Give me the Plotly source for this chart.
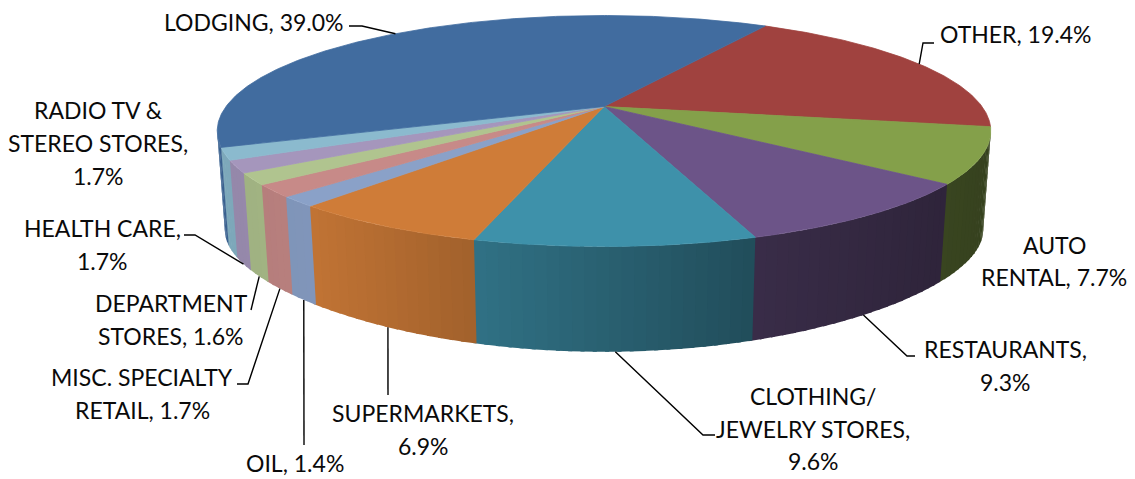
import numpy as np
import plotly.graph_objects as go

# Merchant category shares, clockwise from the LODGING / OTHER boundary.
categories = ["OTHER", "AUTO RENTAL", "RESTAURANTS", "CLOTHING/JEWELRY STORES", "SUPERMARKETS",
              "OIL", "MISC. SPECIALTY RETAIL", "DEPARTMENT STORES", "HEALTH CARE",
              "RADIO TV & STEREO STORES", "LODGING"]
shares = [19.4, 7.7, 9.3, 9.6, 6.9, 1.4, 1.7, 1.6, 1.7, 1.7, 39.0]
face_colors = ["#A0423F", "#84A04A", "#6C5488", "#3E91AA", "#CF7C38", "#8AA1C8",
               "#C78A88", "#B0C48F", "#A596BC", "#8BBACE", "#416C9F"]

# Projection of the tilted disc onto the page, in pixels.
CX, CY = 604.0, 106.5
RADIUS_X, RADIUS_Y = 378.0, 110.3
PERSPECTIVE_TOP, PERSPECTIVE_BOTTOM = 0.212, 0.35
BOTTOM_SHRINK, BOTTOM_DROP, BOTTOM_RADIUS_Y = 0.98, 103.0, 92.5
START_DEG = 30.3


def top_rim(theta, r=1.0):
    u, v = r * np.sin(theta), -r * np.cos(theta)
    s = 1.0 / (1.0 - PERSPECTIVE_TOP * v)
    return CX + RADIUS_X * u * s, CY + RADIUS_Y * v * s


def bottom_rim(theta):
    u, v = np.sin(theta), -np.cos(theta)
    s = 1.0 / (1.0 - PERSPECTIVE_TOP * v)
    x = CX + BOTTOM_SHRINK * RADIUS_X * u * s
    y = CY + BOTTOM_DROP + BOTTOM_RADIUS_Y * v / (1.0 - PERSPECTIVE_BOTTOM * v)
    return x, y


def shade(hex_color, factor):
    rgb = [int(hex_color[i:i + 2], 16) for i in (1, 3, 5)]
    return "rgb({},{},{})".format(*[int(round(c * factor)) for c in rgb])


def wall_factor(x):
    # The side wall darkens from left to right.
    return float(np.interp(x, [220, 310, 473, 755, 945, 990],
                           [0.90, 0.93, 0.78, 0.53, 0.43, 0.41]))


edges = np.radians(START_DEG + np.concatenate([[0], np.cumsum(shares)]) * 3.6)
mids = (edges[:-1] + edges[1:]) / 2
fig = go.Figure()


def poly(xs, ys, color, line_width=0.8):
    fig.add_trace(go.Scatter(x=xs, y=ys, mode="lines", fill="toself", fillcolor=color,
                             line=dict(color=color, width=line_width), hoverinfo="skip",
                             showlegend=False))


# Side wall: only the part facing the viewer, split into narrow strips for the shading.
# Each strip runs slightly under the next one so no seams show between them.
OVERLAP = np.radians(0.5)
for lo, hi, color in zip(edges[:-1], edges[1:], face_colors):
    vis_lo, vis_hi = np.radians(101.5), np.radians(258.5)
    a, b = max(lo, vis_lo), min(hi, vis_hi)
    if b <= a:
        continue
    cuts = np.linspace(a, b, max(2, int(np.degrees(b - a) / 1.5) + 1))
    for t0, t1 in zip(cuts[:-1], cuts[1:]):
        t_end = min(t1 + OVERLAP, vis_hi)
        span = np.array([t0, t_end])
        tx, ty = top_rim(span)
        bx, by = bottom_rim(span)
        poly([tx[0], tx[1], bx[1], bx[0], tx[0]], [ty[0], ty[1], by[1], by[0], ty[0]],
             shade(color, wall_factor((tx[0] + tx[1]) / 2)), line_width=0)

# Top faces of the slices.
for lo, hi, color in zip(edges[:-1], edges[1:], face_colors):
    arc = np.linspace(lo, hi, max(3, int(np.degrees(hi - lo) * 2)))
    ax, ay = top_rim(arc)
    poly(np.r_[CX, ax, CX], np.r_[CY, ay, CY], color)

# Leader lines run from a slice's mid angle on the rim out to its label.
leaders = {
    "LODGING": (top_rim, [(362, 26), (349, 26)]),
    "OTHER": (top_rim, [(923, 43), (934, 43)]),
    "RESTAURANTS": (bottom_rim, [(907, 356), (915, 356)]),
    "CLOTHING/JEWELRY STORES": (bottom_rim, [(703, 435), (715, 435)]),
    "SUPERMARKETS": (bottom_rim, [(388, 395)]),
    "OIL": (bottom_rim, [(304, 445)]),
    "MISC. SPECIALTY RETAIL": (bottom_rim, [(248, 384), (237, 384)]),
    "DEPARTMENT STORES": (bottom_rim, [(251, 310)]),
    "HEALTH CARE": (bottom_rim, [(195, 235), (184, 235)]),
}
for name, (rim, tail) in leaders.items():
    x0, y0 = rim(mids[categories.index(name)])
    xs = [x0] + [p[0] for p in tail]
    ys = [y0] + [p[1] for p in tail]
    fig.add_trace(go.Scatter(x=xs, y=ys, mode="lines", line=dict(color="black", width=1.4),
                             hoverinfo="skip", showlegend=False))

# Label text, one entry per printed line: text, centre x, centre y.
label_lines = [
    ("LODGING, 39.0%", 254, 22),
    ("OTHER, 19.4%", 1016, 34),
    ("AUTO", 1054, 245), ("RENTAL, 7.7%", 1054, 277),
    ("RESTAURANTS,", 1005, 349), ("9.3%", 1005, 382),
    ("CLOTHING/", 813, 396), ("JEWELRY STORES,", 813, 429), ("9.6%", 813, 461),
    ("SUPERMARKETS,", 423, 413), ("6.9%", 423, 446),
    ("OIL, 1.4%", 295, 463),
    ("MISC. SPECIALTY", 142, 377), ("RETAIL, 1.7%", 142, 410),
    ("DEPARTMENT", 171, 303), ("STORES, 1.6%", 171, 336),
    ("HEALTH CARE,", 102, 228), ("1.7%", 102, 261),
    ("RADIO TV &", 98, 110), ("STEREO STORES,", 98, 143), ("1.7%", 98, 176),
]
annotations = [dict(x=x, y=y, text=t, showarrow=False, xanchor="center", yanchor="middle",
                    font=dict(family="Lato", size=23, color="#0a0a0a"))
               for t, x, y in label_lines]

fig.update_layout(
    width=1135, height=479, margin=dict(l=0, r=0, t=0, b=0),
    paper_bgcolor="white", plot_bgcolor="white", showlegend=False,
    xaxis=dict(range=[0, 1135], visible=False, fixedrange=True),
    yaxis=dict(range=[479, 0], visible=False, fixedrange=True),
    annotations=annotations,
)
fig.write_html("out.html", config=dict(displayModeBar=False))
